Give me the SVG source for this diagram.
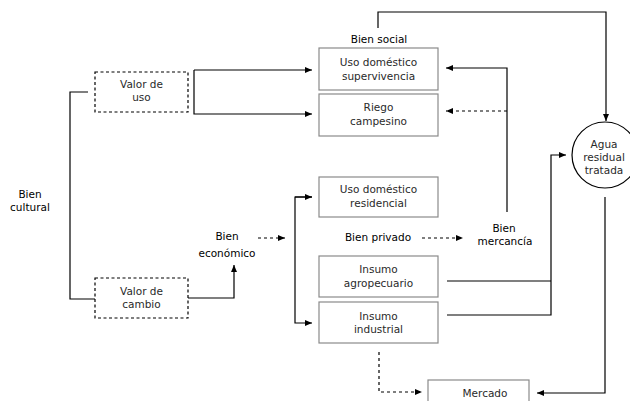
<svg xmlns="http://www.w3.org/2000/svg" width="630" height="401" viewBox="0 0 630 401">
<style>
text{font-family:"DejaVu Sans","Liberation Sans",sans-serif;font-size:10.5px;text-anchor:middle;fill:#2a2a2a}
.lbl{fill:#000;font-size:10.5px}
.box{fill:#fff;stroke:#8a8a8a;stroke-width:1.2}
.dbox{fill:#fff;stroke:#000;stroke-width:1.2;stroke-dasharray:3,2.5}
.ln{fill:none;stroke:#000;stroke-width:1.2}
.dl{fill:none;stroke:#000;stroke-width:1.2;stroke-dasharray:3,3}
</style>
<defs>
<marker id="ah" markerUnits="userSpaceOnUse" markerWidth="8" markerHeight="6" refX="7" refY="3" orient="auto">
<path d="M0,0 L7,3 L0,6 z" fill="#000"/>
</marker>
</defs>
<rect width="630" height="401" fill="#fff"/>
<g id="connectors">
<path class="ln" d="M88,92 H70 V299 H95"/>
<path class="ln" d="M194,70 H312" marker-end="url(#ah)"/>
<path class="ln" d="M194,70 V114 H312" marker-end="url(#ah)"/>
<path class="ln" d="M188,298 H234 V265" marker-end="url(#ah)"/>
<path class="dl" d="M258,238 H285" marker-end="url(#ah)"/>
<path class="ln" d="M312,197 H295 V323 H312" marker-end="url(#ah)"/>
<path class="ln" d="M295,197 H312" marker-end="url(#ah)"/>
<path class="ln" d="M378,28 V12 H606 V121" marker-end="url(#ah)"/>
<path class="ln" d="M507,212 V68 H446" marker-end="url(#ah)"/>
<path class="dl" d="M507,111 H446" marker-end="url(#ah)"/>
<path class="dl" d="M422,238 H463" marker-end="url(#ah)"/>
<path class="ln" d="M447,281 H551"/>
<path class="ln" d="M447,315 H551 V155 H566" marker-end="url(#ah)"/>
<path class="ln" d="M605,197 V393 H537" marker-end="url(#ah)"/>
<path class="dl" d="M379,352 V392 H422" marker-end="url(#ah)"/>
</g>
<g id="bien-cultural"><text class="lbl" x="30" y="198">Bien</text><text class="lbl" x="30" y="211">cultural</text></g>
<g id="valor-uso"><rect class="dbox" x="95" y="72" width="93" height="40"/><text x="141.5" y="88">Valor de</text><text x="141.5" y="101">uso</text></g>
<g id="valor-cambio"><rect class="dbox" x="95" y="278" width="93" height="40"/><text x="141.5" y="295">Valor de</text><text x="141.5" y="308">cambio</text></g>
<g id="bien-economico"><text class="lbl" x="227" y="240">Bien</text><text class="lbl" x="227" y="257">económico</text></g>
<g id="bien-social"><text class="lbl" x="379" y="43">Bien social</text></g>
<g id="uso-supervivencia"><rect class="box" x="319" y="48" width="119" height="42"/><text x="378.5" y="66">Uso doméstico</text><text x="378.5" y="80">supervivencia</text></g>
<g id="riego"><rect class="box" x="319" y="94" width="119" height="42"/><text x="378.5" y="111">Riego</text><text x="378.5" y="125">campesino</text></g>
<g id="uso-residencial"><rect class="box" x="319" y="177" width="119" height="40"/><text x="378.5" y="193">Uso doméstico</text><text x="378.5" y="207">residencial</text></g>
<g id="bien-privado"><text class="lbl" x="378" y="241">Bien privado</text></g>
<g id="bien-mercancia"><text class="lbl" x="504" y="232">Bien</text><text class="lbl" x="505" y="245">mercancía</text></g>
<g id="insumo-agro"><rect class="box" x="319" y="256" width="119" height="41"/><text x="378.5" y="273">Insumo</text><text x="378.5" y="287">agropecuario</text></g>
<g id="insumo-industrial"><rect class="box" x="319" y="302" width="119" height="41"/><text x="378.5" y="320">Insumo</text><text x="378.5" y="333">industrial</text></g>
<g id="agua"><circle cx="605" cy="155" r="33" fill="#fff" stroke="#000" stroke-width="1.2"/><text x="604" y="148">Agua</text><text x="604" y="161">residual</text><text x="604" y="174">tratada</text></g>
<g id="mercado"><rect class="box" x="428" y="380" width="101" height="30"/><text x="485" y="397">Mercado</text></g>
</svg>
